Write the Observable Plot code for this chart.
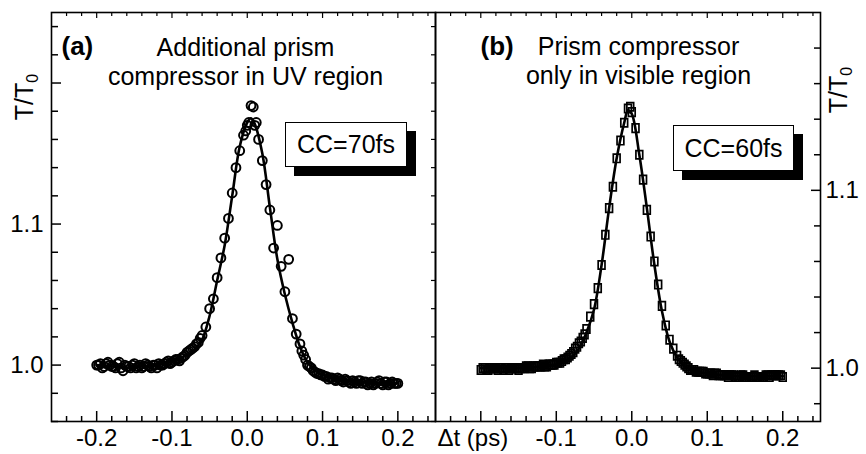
<!DOCTYPE html>
<html><head><meta charset="utf-8">
<script src="https://cdn.jsdelivr.net/npm/d3@7"></script>
<script src="https://cdn.jsdelivr.net/npm/@observablehq/plot@0.6"></script>
<style>
html,body{margin:0;padding:0;background:#fff;overflow:hidden;}
#wrap{position:relative;width:866px;height:454px;font-family:"Liberation Sans",Arial,sans-serif;color:#000;}
#wrap svg{position:absolute;left:0;top:0;}
.cc{position:absolute;border:1px solid #000;background:#fff;box-shadow:9px 9px 0 #000;font-size:25px;display:flex;align-items:center;justify-content:center;box-sizing:border-box;}
.ylab{position:absolute;width:70px;height:30px;line-height:30px;text-align:center;font-size:25px;transform:rotate(-90deg);white-space:nowrap;}
.ylab sub{font-size:16px;vertical-align:-5px;}
</style></head>
<body>
<div id="wrap"></div>
<script>
// ---------- data: panel (a) ----------
const tA = [-0.200,-0.195,-0.190,-0.185,-0.180,-0.175,-0.170,-0.165,-0.160,-0.155,-0.150,-0.145,-0.140,-0.135,-0.130,-0.125,-0.120,-0.115,-0.110,-0.105,-0.100,-0.095,-0.090,-0.085,-0.080,-0.075,-0.070,-0.065,-0.060,-0.055,-0.050,-0.045,-0.040,-0.035,-0.030,-0.025,-0.020,-0.015,-0.010,-0.005,-0.002,0.000,0.002,0.005,0.008,0.010,0.012,0.015,0.020,0.025,0.030,0.035,0.040,0.045,0.050,0.055,0.060,0.065,0.070,0.075,0.080,0.085,0.090,0.095,0.100,0.105,0.110,0.115,0.120,0.125,0.130,0.135,0.140,0.145,0.150,0.155,0.160,0.165,0.170,0.175,0.180,0.185,0.190,0.195,0.200];
const vA = [1.000,1.001,0.999,1.002,0.999,0.998,1.002,0.996,0.999,0.998,1.001,0.999,0.998,1.001,0.999,1.000,0.998,1.000,1.001,1.003,1.002,1.004,1.003,1.006,1.009,1.011,1.013,1.016,1.021,1.027,1.040,1.047,1.062,1.076,1.090,1.104,1.122,1.140,1.152,1.163,1.166,1.170,1.172,1.184,1.183,1.170,1.172,1.160,1.145,1.128,1.110,1.083,1.099,1.070,1.052,1.075,1.033,1.022,1.015,1.007,1.000,0.998,0.995,0.994,0.993,0.992,0.991,0.990,0.991,0.989,0.990,0.988,0.989,0.987,0.989,0.988,0.986,0.988,0.987,0.989,0.986,0.988,0.987,0.987,0.987];
const tA2 = [-0.1975,-0.1925,-0.1875,-0.1825,-0.1775,-0.1725,-0.1675,-0.1625,-0.1575,-0.1525,-0.1475,-0.1425,-0.1375,-0.1325,-0.1275,-0.1225,-0.1175,-0.1125,-0.1075,-0.1025,-0.0975,-0.0925,-0.0875,-0.0825,-0.0775,-0.0725,-0.0675,-0.0625,0.0725,0.0775,0.0825,0.0875,0.0925,0.0975,0.1025,0.1075,0.1125,0.1175,0.1225,0.1275,0.1325,0.1375,0.1425,0.1475,0.1525,0.1575,0.1625,0.1675,0.1725,0.1775,0.1825,0.1875,0.1925,0.1975];
const vA2 = [1.000,0.998,1.001,1.000,0.999,1.001,0.998,1.000,0.999,1.000,0.998,1.000,0.999,1.000,0.998,1.000,1.001,1.000,1.002,1.001,1.003,1.004,1.005,1.007,1.010,1.012,1.015,1.019,1.010,1.004,0.999,0.996,0.994,0.993,0.992,0.990,0.991,0.989,0.990,0.988,0.989,0.987,0.988,0.989,0.987,0.988,0.987,0.986,0.988,0.987,0.988,0.986,0.988,0.987];
const fitTA = [-0.20,-0.18,-0.16,-0.14,-0.12,-0.10,-0.09,-0.08,-0.07,-0.06,-0.05,-0.04,-0.03,-0.02,-0.01,0.000,0.005,0.010,0.02,0.03,0.04,0.05,0.06,0.07,0.08,0.09,0.10,0.12,0.14,0.16,0.18,0.20];
const fitVA = [1.000,0.999,0.998,0.999,1.000,1.003,1.005,1.007,1.011,1.018,1.035,1.060,1.085,1.120,1.155,1.172,1.175,1.171,1.150,1.112,1.075,1.050,1.030,1.013,1.002,0.996,0.993,0.990,0.989,0.988,0.987,0.987];

// ---------- data: panel (b) ----------
const tB = [-0.200,-0.195,-0.190,-0.185,-0.180,-0.175,-0.170,-0.165,-0.160,-0.155,-0.150,-0.145,-0.140,-0.135,-0.130,-0.125,-0.120,-0.115,-0.110,-0.105,-0.100,-0.095,-0.090,-0.085,-0.080,-0.075,-0.070,-0.065,-0.060,-0.055,-0.050,-0.045,-0.040,-0.035,-0.030,-0.025,-0.020,-0.015,-0.010,-0.005,-0.002,0.000,0.005,0.010,0.015,0.020,0.025,0.030,0.035,0.040,0.045,0.050,0.055,0.060,0.065,0.070,0.075,0.080,0.085,0.090,0.095,0.100,0.105,0.110,0.115,0.120,0.125,0.130,0.135,0.140,0.145,0.150,0.155,0.160,0.165,0.170,0.175,0.180,0.185,0.190,0.195,0.200];
const vB = [0.999,1.000,0.999,1.000,1.000,1.000,0.999,1.000,1.000,1.000,0.999,1.000,1.001,1.000,1.001,1.001,1.001,1.001,1.002,1.002,1.003,1.003,1.005,1.006,1.008,1.011,1.014,1.017,1.022,1.029,1.036,1.045,1.058,1.075,1.090,1.102,1.118,1.128,1.138,1.146,1.147,1.144,1.135,1.120,1.106,1.089,1.074,1.060,1.047,1.035,1.024,1.016,1.011,1.007,1.004,1.002,1.000,0.999,0.998,0.998,0.998,0.997,0.997,0.997,0.996,0.996,0.996,0.996,0.996,0.995,0.996,0.995,0.995,0.995,0.995,0.995,0.995,0.996,0.996,0.996,0.996,0.995];
const tB2 = [-0.1975,-0.1925,-0.1875,-0.1825,-0.1775,-0.1725,-0.1675,-0.1625,-0.1575,-0.1525,-0.1475,-0.1425,-0.1375,-0.1325,-0.1275,-0.1225,-0.1175,-0.1125,-0.1075,-0.1025,-0.0975,-0.0925,-0.0875,-0.0825,-0.0775,-0.0725,-0.0675,-0.0625,0.0625,0.0675,0.0725,0.0775,0.0825,0.0875,0.0925,0.0975,0.1025,0.1075,0.1125,0.1175,0.1225,0.1275,0.1325,0.1375,0.1425,0.1475,0.1525,0.1575,0.1625,0.1675,0.1725,0.1775,0.1825,0.1875,0.1925,0.1975];
const vB2 = [1.000,0.999,1.000,1.000,0.999,1.000,1.000,0.999,1.000,1.000,1.000,1.000,1.001,1.000,1.001,1.001,1.002,1.001,1.002,1.002,1.003,1.004,1.005,1.007,1.009,1.012,1.015,1.019,1.005,1.003,1.001,0.999,0.999,0.998,0.998,0.997,0.997,0.996,0.997,0.996,0.996,0.995,0.996,0.995,0.995,0.996,0.995,0.995,0.996,0.995,0.995,0.996,0.995,0.996,0.996,0.996];
const fitTB = [-0.20,-0.18,-0.16,-0.14,-0.12,-0.10,-0.09,-0.08,-0.07,-0.06,-0.05,-0.04,-0.03,-0.02,-0.01,-0.005,0.000,0.01,0.02,0.03,0.04,0.05,0.06,0.07,0.08,0.10,0.12,0.14,0.16,0.18,0.20];
const fitVB = [1.000,1.000,1.000,1.000,1.001,1.002,1.003,1.006,1.011,1.020,1.033,1.058,1.090,1.118,1.138,1.145,1.143,1.120,1.090,1.058,1.032,1.015,1.006,1.001,0.999,0.997,0.996,0.9955,0.9955,0.9955,0.9955];

// ---------- axes / ticks / labels ----------
const xDomain = [-0.26, 0.25];
const yDomainA = [0.96, 1.25];
const yDomainB = [0.97, 1.20];
const xMajor = [-0.2, -0.1, 0, 0.1, 0.2];
const xLabelsB = [-0.1, 0, 0.1, 0.2];
const xMajorUnlabeledB = [-0.2];
const xMinor = [-0.24,-0.22,-0.18,-0.16,-0.14,-0.12,-0.08,-0.06,-0.04,-0.02,0.02,0.04,0.06,0.08,0.12,0.14,0.16,0.18,0.22,0.24];
const yLabelsA = [1.0, 1.1];
const yMajorUnlabeledA = [1.2];
const yMinorA = [0.96,0.98,1.02,1.04,1.06,1.08,1.12,1.14,1.16,1.18,1.22,1.24];
const yLabelsB = [1.0, 1.1];
const yMinorB = [0.98,1.02,1.04,1.06,1.08,1.12,1.14,1.16,1.18];
const titleA = "Additional prism\ncompressor in UV region";
const titleB = "Prism compressor\nonly in visible region";
const tagA = "(a)", tagB = "(b)";
const ccA = "CC=70fs", ccB = "CC=60fs";
const xLabel = "\u0394t (ps)";

const dataA = [...tA.map((t, i) => ({t, v: vA[i]})), ...tA2.map((t, i) => ({t, v: vA2[i]}))];
const fitA = fitTA.map((t, i) => ({t, v: fitVA[i]}));
const dataB = [...tB.map((t, i) => ({t, v: vB[i]})), ...tB2.map((t, i) => ({t, v: vB2[i]}))];
const fitB = fitTB.map((t, i) => ({t, v: fitVB[i]}));

const fmt = d => d.toFixed(1);
const style = {background: "transparent", fontFamily: "Liberation Sans, Arial, sans-serif", fontSize: "24px", color: "black", overflow: "visible"};
const tallSquare = {draw(ctx) { ctx.moveTo(-3.4, -4.2); ctx.lineTo(3.4, -4.2); ctx.lineTo(3.4, 4.2); ctx.lineTo(-3.4, 4.2); ctx.closePath(); }};

const left = Plot.plot({
  width: 866, height: 454,
  marginLeft: 51, marginRight: 431, marginTop: 12, marginBottom: 33,
  style,
  x: {domain: xDomain},
  y: {domain: yDomainA},
  marks: [
    Plot.axisX({anchor: "bottom", ticks: xMajor, tickSize: -10, tickPadding: 17, tickFormat: fmt, label: null, strokeWidth: 1.5}),
    Plot.axisX({anchor: "bottom", ticks: xMinor, tickSize: -5, fill: "none", label: null, strokeWidth: 1.5}),
    Plot.axisX({anchor: "top", ticks: xMajor, tickSize: -5, fill: "none", label: null, strokeWidth: 1.2}),
    Plot.axisX({anchor: "top", ticks: xMinor, tickSize: -3, fill: "none", label: null, strokeWidth: 1.2}),
    Plot.axisY({anchor: "left", ticks: yLabelsA, tickSize: -10, tickPadding: 18, tickFormat: fmt, label: null, strokeWidth: 1.5}),
    Plot.axisY({anchor: "left", ticks: yMajorUnlabeledA, tickSize: -10, fill: "none", label: null, strokeWidth: 1.5}),
    Plot.axisY({anchor: "left", ticks: yMinorA, tickSize: -7, fill: "none", label: null, strokeWidth: 1.5}),
    Plot.axisY({anchor: "right", ticks: [...yLabelsA, ...yMajorUnlabeledA, ...yMinorA], tickSize: -5, fill: "none", label: null, strokeWidth: 1.2}),
    Plot.frame({stroke: "black", strokeWidth: 1.6}),
    Plot.dot(dataA, {x: "t", y: "v", r: 4.4, stroke: "black", strokeWidth: 2, fill: "none"}),
    Plot.line(fitA, {x: "t", y: "v", curve: "catmull-rom", stroke: "black", strokeWidth: 2.6}),
    Plot.text([titleA], {text: d => d, frameAnchor: "top-left", dx: 194, dy: 23, textAnchor: "middle", lineAnchor: "top", lineHeight: 1.16, fontSize: 25}),
    Plot.text([tagA], {text: d => d, frameAnchor: "top-left", dx: 10, dy: 24, textAnchor: "start", lineAnchor: "top", fontSize: 26, fontWeight: "bold"})
  ]
});

const right = Plot.plot({
  width: 866, height: 454,
  marginLeft: 435, marginRight: 46, marginTop: 12, marginBottom: 33,
  style,
  x: {domain: xDomain},
  y: {domain: yDomainB},
  marks: [
    Plot.axisX({anchor: "bottom", ticks: xLabelsB, tickSize: -10, tickPadding: 17, tickFormat: fmt, label: null, strokeWidth: 1.5}),
    Plot.axisX({anchor: "bottom", ticks: xMajorUnlabeledB, tickSize: -10, fill: "none", label: null, strokeWidth: 1.5}),
    Plot.axisX({anchor: "bottom", ticks: xMinor, tickSize: -5, fill: "none", label: null, strokeWidth: 1.5}),
    Plot.axisX({anchor: "top", ticks: xMajor, tickSize: -5, fill: "none", label: null, strokeWidth: 1.2}),
    Plot.axisX({anchor: "top", ticks: xMinor, tickSize: -3, fill: "none", label: null, strokeWidth: 1.2}),
    Plot.axisY({anchor: "right", ticks: yLabelsB, tickSize: -10, tickPadding: 15, tickFormat: fmt, label: null, strokeWidth: 1.5}),
    Plot.axisY({anchor: "right", ticks: yMinorB, tickSize: -7, fill: "none", label: null, strokeWidth: 1.5}),
    Plot.frame({stroke: "black", strokeWidth: 1.6}),
    Plot.dot(dataB, {x: "t", y: "v", symbol: tallSquare, stroke: "black", strokeWidth: 1.7, fill: "none"}),
    Plot.line(fitB, {x: "t", y: "v", curve: "catmull-rom", stroke: "black", strokeWidth: 2.6}),
    Plot.text([titleB], {text: d => d, frameAnchor: "top-left", dx: 203, dy: 22, textAnchor: "middle", lineAnchor: "top", lineHeight: 1.16, fontSize: 25}),
    Plot.text([tagB], {text: d => d, frameAnchor: "top-left", dx: 45, dy: 24, textAnchor: "start", lineAnchor: "top", fontSize: 26, fontWeight: "bold"}),
    Plot.text([xLabel], {text: d => d, frameAnchor: "bottom-left", dx: 2, dy: 24, textAnchor: "start", lineAnchor: "bottom", fontSize: 24})
  ]
});

const wrap = document.getElementById("wrap");
wrap.appendChild(left);
wrap.appendChild(right);

function addBox(text, l, t, w, h) {
  const d = document.createElement("div");
  d.className = "cc";
  d.style.left = l + "px"; d.style.top = t + "px";
  d.style.width = w + "px"; d.style.height = h + "px";
  d.textContent = text;
  wrap.appendChild(d);
}
addBox(ccA, 285, 122, 122, 45);
addBox(ccB, 673, 125, 121, 46);

function addYLabel(cx, cy) {
  const d = document.createElement("div");
  d.className = "ylab";
  d.style.left = (cx - 35) + "px"; d.style.top = (cy - 15) + "px";
  d.innerHTML = "T/T<sub>0</sub>";
  wrap.appendChild(d);
}
addYLabel(24, 97);
addYLabel(838, 90);
</script>
</body></html>
